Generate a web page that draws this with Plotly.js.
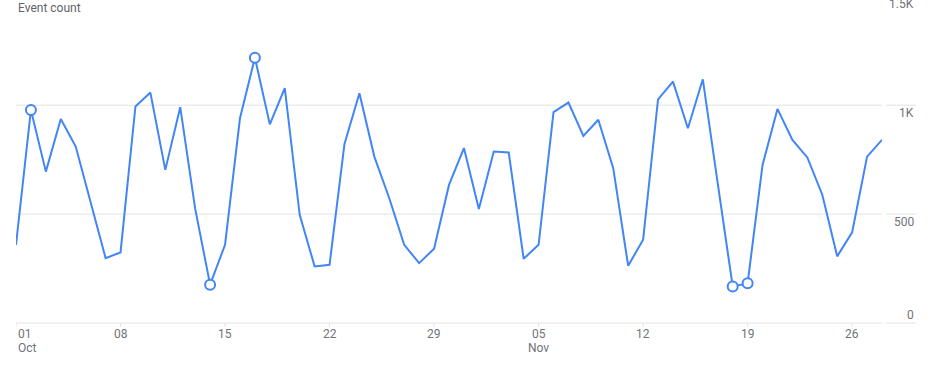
<!DOCTYPE html>
<html>
<head>
<meta charset="utf-8">
<script src="https://cdn.plot.ly/plotly-3.0.1.min.js"></script>
<style>html,body{margin:0;padding:0;background:#fff;}#chart{width:944px;height:368px;}</style>
</head>
<body>
<div id="chart"></div>
<script>
// ---- data ----
var startDate = '2024-10-01';
var eventCounts = [359, 978, 695, 937, 810, 555, 298, 324, 994, 1058,
  703, 991, 525, 176, 359, 940, 1218, 912, 1078, 497,
  260, 267, 822, 1055, 764, 573, 359, 275, 341, 634,
  803, 523, 787, 783, 295, 359, 968, 1012, 859, 933,
  711, 263, 382, 1027, 1108, 894, 1119, 640, 168, 182,
  726, 983, 841, 760, 589, 306, 416, 764, 841];
var highlightIdx = [1, 13, 16, 48, 49];
var xTickDates = ['2024-10-01','2024-10-08','2024-10-15','2024-10-22','2024-10-29','2024-11-05','2024-11-12','2024-11-19','2024-11-26'];
var xTickLabels = ['01','08','15','22','29','05','12','19','26'];
var monthLabels = ['Oct','','','','','Nov','','',''];
var yTickVals = [0, 500, 1000, 1500];
var yTickLabels = ['0','500','1K','1.5K'];
var yTitle = 'Event count';

// ---- build ----
function addDays(s, n) {
  var d = new Date(s + 'T00:00:00Z');
  d.setUTCDate(d.getUTCDate() + n);
  return d.toISOString().slice(0, 10);
}
var dates = eventCounts.map(function (_, i) { return addDays(startDate, i); });
var hx = highlightIdx.map(function (i) { return dates[i]; });
var hy = highlightIdx.map(function (i) { return eventCounts[i]; });

var blue = '#4285f4';
var grid = '#e3e3e3';
var tickColor = '#6f7378';
var yMax = 1483;
var plotLeft = 15.7, plotW = 866, plotH = 323.3;
var fnt = 'Roboto, Arial, sans-serif';

var traces = [
  {x: dates, y: eventCounts, type: 'scatter', mode: 'lines',
   line: {color: blue, width: 2}, hoverinfo: 'x+y', cliponaxis: false},
  {x: hx, y: hy, type: 'scatter', mode: 'markers',
   marker: {symbol: 'circle', size: 10, color: '#ffffff', line: {color: blue, width: 2}},
   hoverinfo: 'x+y', cliponaxis: false}
];

var annotations = [];
var shapes = [];
xTickDates.forEach(function (d, i) {
  annotations.push({x: d, xref: 'x', y: 0, yref: 'paper', yanchor: 'middle',
    xanchor: i === 0 ? 'left' : 'center', yshift: -11, text: xTickLabels[i],
    showarrow: false, font: {family: fnt, size: 12, color: tickColor}});
  if (monthLabels[i]) {
    annotations.push({x: d, xref: 'x', y: 0, yref: 'paper', yanchor: 'middle',
      xanchor: i === 0 ? 'left' : 'center', yshift: -25, text: monthLabels[i],
      showarrow: false, font: {family: fnt, size: 12, color: tickColor}});
  }
  shapes.push({type: 'line', xref: 'x', yref: 'paper', x0: d, x1: d, y0: 0, y1: -4 / plotH,
    line: {color: grid, width: 1}});
});
var labelX = (916 - plotLeft) / plotW;
yTickVals.forEach(function (v, i) {
  var py = v / yMax;
  annotations.push({x: labelX, xref: 'paper', y: py, yref: 'paper', yanchor: 'middle',
    xanchor: 'right', yshift: v === 0 ? 8 : -7.5, text: yTickLabels[i], showarrow: false,
    font: {family: fnt, size: 12, color: tickColor}});
  shapes.push({type: 'line', xref: 'paper', yref: 'paper', x0: 0, x1: 1, y0: py, y1: py,
    line: {color: grid, width: 1}, layer: 'below'});
  shapes.push({type: 'line', xref: 'paper', yref: 'paper', x0: (886 - plotLeft) / plotW, x1: labelX,
    y0: py, y1: py, line: {color: grid, width: 1}, layer: 'below'});
});

annotations.push({x: 0, xref: 'paper', y: (plotH - 8) / plotH, yref: 'paper', text: yTitle,
  showarrow: false, xanchor: 'left', yanchor: 'middle',
  font: {family: fnt, size: 12, color: '#5f6368'}});

var layout = {
  width: 944, height: 368,
  margin: {l: plotLeft, r: 944 - plotLeft - plotW, t: 0, b: 368 - plotH, pad: 0},
  paper_bgcolor: '#ffffff', plot_bgcolor: '#ffffff',
  showlegend: false,
  xaxis: {type: 'date', range: [dates[0], dates[dates.length - 1]], showgrid: false,
    zeroline: false, showline: false, showticklabels: false, ticks: '', fixedrange: true},
  yaxis: {range: [0, yMax], showgrid: false, zeroline: false, showline: false,
    showticklabels: false, ticks: '', fixedrange: true},
  annotations: annotations,
  shapes: shapes,
  font: {family: fnt}
};

Plotly.newPlot('chart', traces, layout, {displayModeBar: false, staticPlot: true});
</script>
</body>
</html>
